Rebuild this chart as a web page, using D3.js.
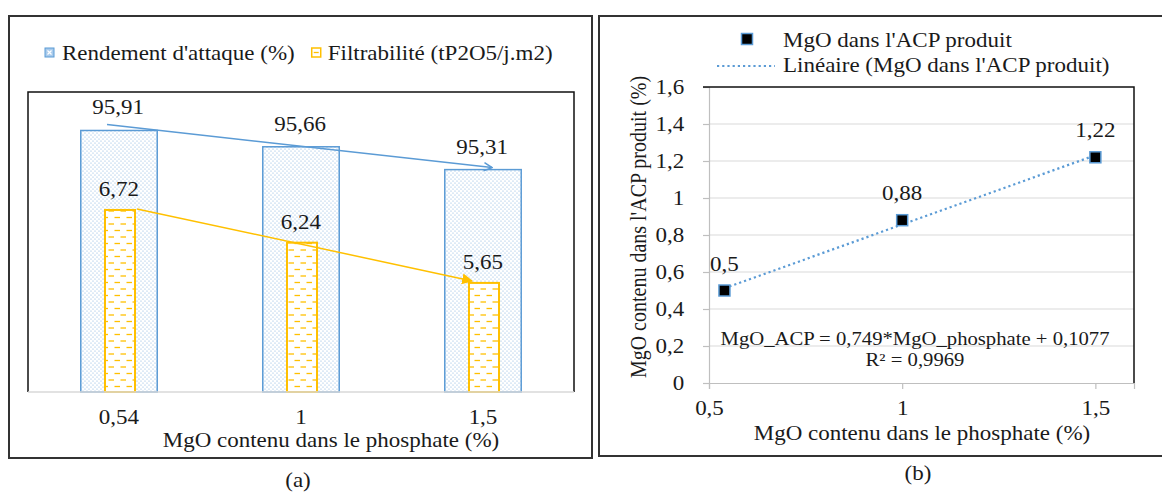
<!DOCTYPE html>
<html lang="fr">

<head>
    <meta charset="UTF-8" />
    <title>MgO - rendement, filtrabilité et ACP</title>
    <script src="https://d3js.org/d3.v7.min.js"></script>
    <style>
        body {
            margin: 0;
            background: #fff;
        }

        svg {
            display: block;
        }

        svg text {
            fill: #1a1a1a;
            font-family: "Liberation Serif", Tinos, "Times New Roman", Times, "DejaVu Serif", serif;
        }
    </style>
</head>

<body>
    <svg id="chart" width="1162" height="492"></svg>

    <script>
        // données
        const categories = ["0,54", "1", "1,5"];
        const rendement = [95.91, 95.66, 95.31];
        const filtrabilite = [6.72, 6.24, 5.65];

        const mgoPhosphate = [0.54, 1, 1.5];
        const mgoACP = [0.5, 0.88, 1.22];
        const regSlope = 0.749;
        const regIntercept = 0.1077;
        const regR2 = "0,9969";
        const xTicksB = [0.5, 1, 1.5];

        const blue = "#5b9bd5";
        const yellow = "#ffc000";
        const SX = 1.15; // la figure d'origine est étirée en largeur

        const fmt = d => String(d).replace(".", ",");

        const svg = d3.select("#chart");

        function txt(g, x, y, s, size, anchor) {
            return g.append("text")
                .attr("transform", `translate(${x},${y}) scale(${SX},1)`)
                .attr("text-anchor", anchor || "middle")
                .attr("font-size", size)
                .text(s);
        }

        // motifs de remplissage
        const defs = svg.append("defs");
        const dots = defs.append("pattern")
            .attr("id", "dots")
            .attr("patternUnits", "userSpaceOnUse")
            .attr("width", 4).attr("height", 4);
        dots.append("rect").attr("width", 4).attr("height", 4).attr("fill", "#fff");
        dots.append("circle").attr("cx", 1).attr("cy", 1).attr("r", 0.6).attr("fill", "#7fb0e0");
        dots.append("circle").attr("cx", 3).attr("cy", 3).attr("r", 0.6).attr("fill", "#7fb0e0");

        const dashes = defs.append("pattern")
            .attr("id", "dashes")
            .attr("patternUnits", "userSpaceOnUse")
            .attr("width", 12).attr("height", 13);
        dashes.append("rect").attr("width", 12).attr("height", 13).attr("fill", "#fff");
        dashes.append("line").attr("x1", 0.5).attr("x2", 6).attr("y1", 3).attr("y2", 3)
            .attr("stroke", yellow).attr("stroke-width", 1.3);
        dashes.append("line").attr("x1", 6.5).attr("x2", 12).attr("y1", 9.5).attr("y2", 9.5)
            .attr("stroke", yellow).attr("stroke-width", 1.3);

        defs.append("marker")
            .attr("id", "arrowBlue")
            .attr("viewBox", "0 0 10 10")
            .attr("refX", 9).attr("refY", 5)
            .attr("markerWidth", 10).attr("markerHeight", 10)
            .attr("markerUnits", "userSpaceOnUse")
            .attr("orient", "auto")
            .append("path")
            .attr("d", "M1,1 L9,5 L1,9")
            .attr("fill", "none")
            .attr("stroke", blue)
            .attr("stroke-width", 1.5);

        defs.append("marker")
            .attr("id", "arrowYellow")
            .attr("viewBox", "0 0 10 10")
            .attr("refX", 9).attr("refY", 5)
            .attr("markerWidth", 11).attr("markerHeight", 11)
            .attr("markerUnits", "userSpaceOnUse")
            .attr("orient", "auto")
            .append("path")
            .attr("d", "M0,0 L10,5 L0,10 Z")
            .attr("fill", yellow);

        // ---------------- (a) ----------------
        const gA = svg.append("g");
        gA.append("rect")
            .attr("x", 9).attr("y", 16).attr("width", 583).attr("height", 442)
            .attr("fill", "none").attr("stroke", "#333").attr("stroke-width", 2);

        const plotA = { left: 28, right: 574, top: 92, bottom: 392 };

        const xA = d3.scaleBand()
            .domain(categories)
            .range([plotA.left, plotA.right])
            .padding(0);
        const yRend = d3.scaleLinear().domain([91.9, 96.5]).range([plotA.bottom, plotA.top]);
        const yFilt = d3.scaleLinear().domain([4.05, 8.45]).range([plotA.bottom, plotA.top]);

        const wBlue = xA.bandwidth() * 0.42;
        const wYel = xA.bandwidth() * 0.165;
        const cx = d => xA(d) + xA.bandwidth() / 2;

        gA.selectAll(".bar-rend")
            .data(rendement)
            .join("rect")
            .attr("class", "bar-rend")
            .attr("x", (d, i) => cx(categories[i]) - wBlue / 2)
            .attr("y", d => yRend(d))
            .attr("width", wBlue)
            .attr("height", d => plotA.bottom - yRend(d))
            .attr("fill", "url(#dots)")
            .attr("stroke", blue)
            .attr("stroke-width", 1.5);

        gA.selectAll(".bar-filt")
            .data(filtrabilite)
            .join("rect")
            .attr("class", "bar-filt")
            .attr("x", (d, i) => cx(categories[i]) + 1 - wYel / 2)
            .attr("y", d => yFilt(d))
            .attr("width", wYel)
            .attr("height", d => plotA.bottom - yFilt(d))
            .attr("fill", "url(#dashes)")
            .attr("stroke", yellow)
            .attr("stroke-width", 2);

        // cadre de la zone de tracé
        gA.append("path")
            .attr("d", `M${plotA.left},${plotA.bottom} V${plotA.top} H${plotA.right} V${plotA.bottom}`)
            .attr("fill", "none").attr("stroke", "#111").attr("stroke-width", 1.5);
        gA.append("line")
            .attr("x1", plotA.left).attr("x2", plotA.right)
            .attr("y1", plotA.bottom).attr("y2", plotA.bottom)
            .attr("stroke", "#d9d9d9").attr("stroke-width", 1.5);

        // flèches de tendance
        gA.append("line")
            .attr("x1", cx(categories[0]) - 12).attr("y1", yRend(rendement[0]) - 6)
            .attr("x2", cx(categories[2]) + 9).attr("y2", yRend(rendement[2]) - 2)
            .attr("stroke", blue).attr("stroke-width", 1.5)
            .attr("marker-end", "url(#arrowBlue)");
        gA.append("line")
            .attr("x1", cx(categories[0]) + 18).attr("y1", yFilt(filtrabilite[0]) - 1)
            .attr("x2", cx(categories[2]) - 11).attr("y2", yFilt(filtrabilite[2]) - 2)
            .attr("stroke", yellow).attr("stroke-width", 1.5)
            .attr("marker-end", "url(#arrowYellow)");

        // étiquettes de valeurs
        rendement.forEach((d, i) => {
            txt(gA, cx(categories[i]) - 1, yRend(d) - 16, fmt(d), 20);
        });
        filtrabilite.forEach((d, i) => {
            txt(gA, cx(categories[i]), yFilt(d) - 14, fmt(d), 20);
        });

        // axe x
        categories.forEach(c => txt(gA, cx(c), 424, c, 20));
        txt(gA, 331, 447, "MgO contenu dans le phosphate (%)", 20);

        // légende
        gA.append("rect").attr("x", 45).attr("y", 48).attr("width", 9).attr("height", 9)
            .attr("fill", "#a9cbec").attr("stroke", blue).attr("stroke-width", 1);
        gA.append("path").attr("d", "M47.5,50.5 L51.5,54.5 M51.5,50.5 L47.5,54.5")
            .attr("stroke", "#fff").attr("stroke-width", 1.2);
        const leg1 = txt(gA, 62, 60, "Rendement d'attaque (%)", 20, "start");
        const leg2x = 62 + leg1.node().getComputedTextLength() * SX + 17;
        gA.append("rect").attr("x", leg2x).attr("y", 48).attr("width", 9).attr("height", 9)
            .attr("fill", "#fff").attr("stroke", yellow).attr("stroke-width", 1.5);
        gA.append("line").attr("x1", leg2x + 2).attr("x2", leg2x + 7).attr("y1", 52.5).attr("y2", 52.5)
            .attr("stroke", yellow).attr("stroke-width", 1.3);
        txt(gA, leg2x + 16, 60, "Filtrabilité (tP2O5/j.m2)", 20, "start");

        txt(svg, 298, 487, "(a)", 20);

        // ---------------- (b) ----------------
        const gB = svg.append("g");
        gB.append("rect")
            .attr("x", 599).attr("y", 16).attr("width", 570).attr("height", 440)
            .attr("fill", "none").attr("stroke", "#333").attr("stroke-width", 2);

        const plotB = { left: 709, right: 1134, top: 87, bottom: 383 };
        const xB = d3.scaleLinear().domain([0.5, 1.6]).range([plotB.left, plotB.right]);
        const yB = d3.scaleLinear().domain([0, 1.6]).range([plotB.bottom, plotB.top]);
        const yTicksB = yB.ticks(8);

        gB.selectAll(".grid")
            .data(yTicksB.filter(t => t > 0 && t < 1.6))
            .join("line")
            .attr("class", "grid")
            .attr("x1", plotB.left).attr("x2", plotB.right)
            .attr("y1", d => yB(d)).attr("y2", d => yB(d))
            .attr("stroke", "#d9d9d9").attr("stroke-width", 1.2);

        // axe y
        const axisY = gB.append("g")
            .attr("transform", `translate(${plotB.left},0)`)
            .call(d3.axisLeft(yB).tickValues(yTicksB).tickSize(6).tickPadding(13).tickFormat(fmt));
        axisY.attr("font-family", null);
        axisY.select(".domain").attr("stroke", "#bfbfbf").attr("stroke-width", 1.2);
        axisY.selectAll(".tick line").attr("stroke", "#bfbfbf").attr("stroke-width", 1.2);
        axisY.selectAll(".tick text")
            .attr("font-size", 20)
            .attr("fill", "#1a1a1a")
            .attr("dy", "0.34em")
            .attr("transform", function () {
                const x = +d3.select(this).attr("x");
                return `translate(${x * (SX - 1)},0) scale(${SX},1)`;
            });

        // axe x
        const axisX = gB.append("g")
            .attr("transform", `translate(0,${plotB.bottom})`)
            .call(d3.axisBottom(xB).tickValues(xTicksB).tickSize(6).tickPadding(12).tickFormat(fmt));
        axisX.attr("font-family", null);
        axisX.select(".domain").attr("stroke", "#bfbfbf").attr("stroke-width", 1.2);
        axisX.selectAll(".tick line").attr("stroke", "#bfbfbf").attr("stroke-width", 1.2);
        axisX.selectAll(".tick text")
            .attr("font-size", 20)
            .attr("fill", "#1a1a1a")
            .attr("transform", `scale(${SX},1)`);

        // cadre haut et droit
        gB.append("path")
            .attr("d", `M${plotB.left - 6},${plotB.top} H${plotB.right} V${plotB.bottom}`)
            .attr("fill", "none").attr("stroke", "#111").attr("stroke-width", 1.5);

        // droite de régression
        const xr = d3.extent(mgoPhosphate);
        gB.append("line")
            .attr("x1", xB(xr[0])).attr("y1", yB(regSlope * xr[0] + regIntercept))
            .attr("x2", xB(xr[1])).attr("y2", yB(regSlope * xr[1] + regIntercept))
            .attr("stroke", blue).attr("stroke-width", 2.2)
            .attr("stroke-dasharray", "2.2,3");

        // points
        gB.selectAll(".pt")
            .data(mgoACP)
            .join("rect")
            .attr("class", "pt")
            .attr("x", (d, i) => xB(mgoPhosphate[i]) - 5.5)
            .attr("y", d => yB(d) - 5.5)
            .attr("width", 11).attr("height", 11)
            .attr("fill", "#000").attr("stroke", blue).attr("stroke-width", 1.5);

        mgoACP.forEach((d, i) => {
            txt(gB, xB(mgoPhosphate[i]), yB(d) - 20, fmt(d), 20);
        });

        // équation
        txt(gB, 915, 345, `MgO_ACP = ${fmt(regSlope)}*MgO_phosphate + ${fmt(regIntercept)}`, 18);
        txt(gB, 915, 366, `R² = ${regR2}`, 18);

        // titres des axes
        txt(gB, 922, 440, "MgO contenu dans le phosphate (%)", 20);
        gB.append("text")
            .attr("transform", `translate(646,227) rotate(-90) scale(1,${SX})`)
            .attr("text-anchor", "middle")
            .attr("font-size", 20)
            .text("MgO contenu dans l'ACP produit (%)");

        // légende
        gB.append("rect").attr("x", 741.5).attr("y", 33.5).attr("width", 11).attr("height", 11)
            .attr("fill", "#000").attr("stroke", blue).attr("stroke-width", 1.5);
        txt(gB, 783, 47, "MgO dans l'ACP produit", 20, "start");
        gB.append("line").attr("x1", 717).attr("x2", 775).attr("y1", 66).attr("y2", 66)
            .attr("stroke", blue).attr("stroke-width", 2.2).attr("stroke-dasharray", "2.2,3");
        txt(gB, 783, 72, "Linéaire (MgO dans l'ACP produit)", 20, "start");

        txt(svg, 918, 480, "(b)", 20);
    </script>
</body>

</html>
